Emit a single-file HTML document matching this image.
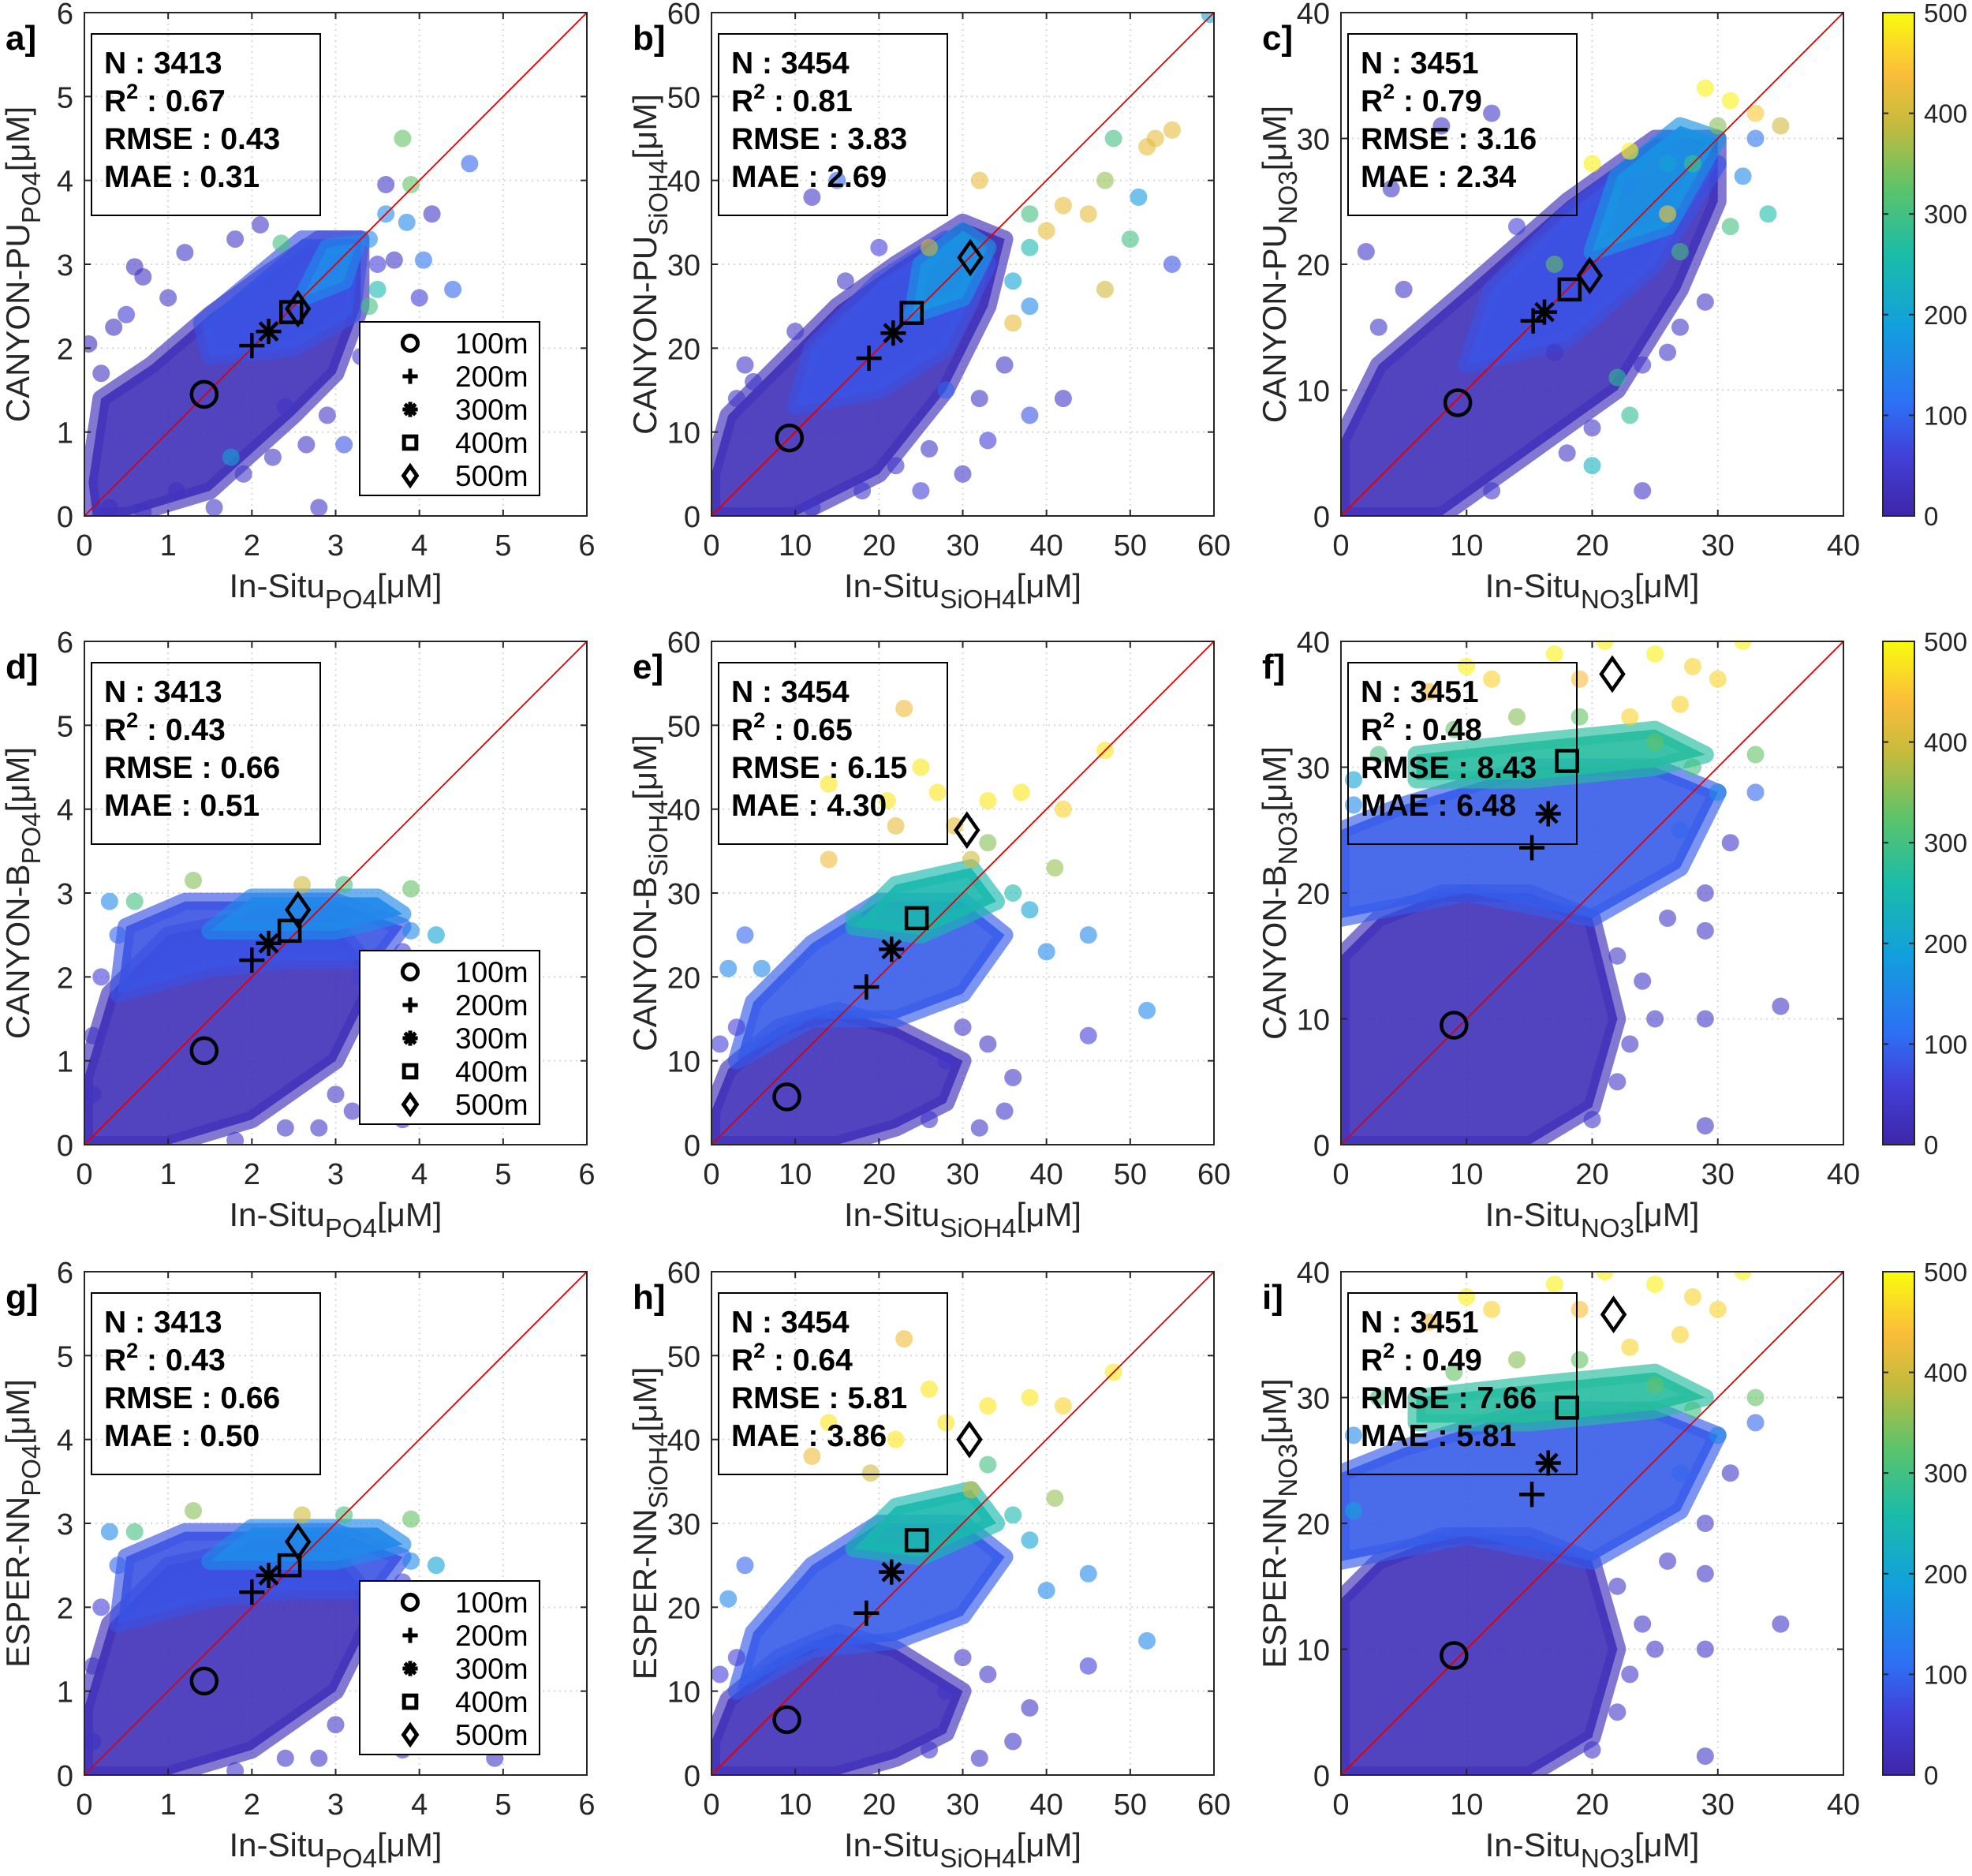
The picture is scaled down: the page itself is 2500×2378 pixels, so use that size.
<!DOCTYPE html>
<html><head><meta charset="utf-8"><style>
body{margin:0;background:#fff}
svg{display:block;font-family:"Liberation Sans",sans-serif}
</style></head><body>
<svg id="fig" width="2500" height="2378" viewBox="0 0 2500 2378" xmlns="http://www.w3.org/2000/svg">
<defs>
<linearGradient id="parula" x1="0" y1="1" x2="0" y2="0">
<stop offset="0" stop-color="#3e26a8"/><stop offset="0.12" stop-color="#4240d8"/><stop offset="0.22" stop-color="#2e6ff5"/><stop offset="0.38" stop-color="#12a0dc"/><stop offset="0.52" stop-color="#1bbca8"/><stop offset="0.65" stop-color="#5cc36a"/><stop offset="0.78" stop-color="#c6bb3c"/><stop offset="0.88" stop-color="#fbbd3a"/><stop offset="1" stop-color="#f9fb0e"/>
</linearGradient>
</defs>
</svg>
<script>
// ---- data ----
const categoriesDepth = ['100m','200m','300m','400m','500m'];
const panelLetters = ['a]','b]','c]','d]','e]','f]','g]','h]','i]'];
const modelNames = ['CANYON-PU','CANYON-PU','CANYON-PU','CANYON-B','CANYON-B','CANYON-B','ESPER-NN','ESPER-NN','ESPER-NN'];
const nutrients = ['PO4','SiOH4','NO3'];
const axisMax = [6,60,40];
const xTicks = [[0,1,2,3,4,5,6],[0,10,20,30,40,50,60],[0,10,20,30,40]];
const statN = ['3413','3454','3451','3413','3454','3451','3413','3454','3451'];
const statR2 = ['0.67','0.81','0.79','0.43','0.65','0.48','0.43','0.64','0.49'];
const statRMSE = ['0.43','3.83','3.16','0.66','6.15','8.43','0.66','5.81','7.66'];
const statMAE = ['0.31','2.69','2.34','0.51','4.30','6.48','0.50','3.86','5.81'];
const colorbarTicks = [0,100,200,300,400,500];

// depth means [x,y] per panel
const meansA=[[1.43,1.45],[2.0,2.03],[2.2,2.2],[2.47,2.43],[2.55,2.47]];
const meansB=[[9.3,9.3],[18.8,18.8],[21.7,21.8],[23.9,24.2],[30.9,30.8]];
const meansC=[[9.3,9.0],[15.3,15.5],[16.2,16.2],[18.2,18.0],[19.8,19.1]];
const meansD=[[1.43,1.12],[2.0,2.2],[2.2,2.4],[2.45,2.55],[2.55,2.8]];
const meansE=[[9.0,5.7],[18.5,18.8],[21.5,23.3],[24.5,27.0],[30.5,37.5]];
const meansF=[[9.0,9.5],[15.2,23.6],[16.5,26.3],[18.0,30.5],[21.6,37.4]];
const meansG=[[1.43,1.12],[2.0,2.18],[2.2,2.38],[2.45,2.5],[2.55,2.78]];
const meansH=[[9.0,6.6],[18.5,19.3],[21.5,24.2],[24.5,28.0],[30.8,40.0]];
const meansI=[[9.0,9.5],[15.2,22.3],[16.5,24.8],[18.0,29.2],[21.7,36.6]];
const means=[meansA,meansB,meansC,meansD,meansE,meansF,meansG,meansH,meansI];

// dense-cloud regions [depthValue, polygon]
const cloudsA=[[20,[[0.1,0],[0.5,0],[1.5,0.3],[2.5,1.2],[3,1.7],[3.3,2.5],[3.3,3.3],[2.8,3.3],[2.2,2.9],[1.5,2.4],[0.8,1.8],[0.2,1.4],[0.05,0.4]]],[80,[[1.5,1.9],[2.5,2.0],[3.2,2.4],[3.3,3.3],[2.6,3.3],[2.0,2.8],[1.4,2.3]]],[150,[[2.6,2.6],[3.1,2.8],[3.25,3.25],[2.9,3.2]]]];
const cloudsB=[[20,[[0,0],[10,0],[20,5],[28,15],[33,25],[35,33],[30,35],[22,30],[15,25],[8,18],[2,12],[0,5]]],[80,[[10,13],[20,15],[28,20],[33,30],[28,33],[20,28],[12,20]]],[170,[[24,24],[30,26],[33,32],[30,34],[25,30]]]];
const cloudsC=[[20,[[0,0],[8,0],[15,5],[22,10],[27,18],[30,25],[30,30],[25,30],[18,25],[10,18],[3,12],[0,6]]],[80,[[10,12],[18,14],[25,20],[30,28],[26,30],[18,24],[12,18]]],[170,[[20,21],[26,23],[30,30],[27,31],[22,27]]]];
const cloudsD=[[20,[[0,0],[1,0],[2,0.3],[3,1],[3.5,2],[3,2.6],[2,2.7],[1,2.5],[0.3,1.8],[0,0.8]]],[80,[[0.4,1.8],[1.5,2.1],[2.5,2.2],[3.5,2.2],[3.8,2.6],[3,2.9],[1.2,2.9],[0.5,2.6]]],[150,[[1.5,2.55],[3,2.55],[3.8,2.75],[3.5,2.95],[2,2.95]]]];
const cloudsE=[[20,[[0,0],[15,0],[22,2],[28,5],[30,10],[22,14],[15,16],[8,14],[2,9],[0,4]]],[90,[[3,10],[12,15],[22,15],[30,18],[35,25],[30,29],[20,29],[12,24],[5,17]]],[250,[[17,26],[25,25],[34,29],[31,33],[22,31]]]];
const cloudsF=[[20,[[0,0],[15,0],[20,3],[22,10],[20,18],[15,20],[8,20],[3,18],[0,15]]],[90,[[0,18],[10,20],[20,18],[27,22],[30,28],[25,30],[15,30],[5,27],[0,25]]],[270,[[6,29],[15,29],[25,30],[29,31],[25,33],[15,32],[6,31]]]];
const cloudsG=[[20,[[0,0],[1,0],[2,0.3],[3,1],[3.5,2],[3,2.6],[2,2.7],[1,2.5],[0.3,1.8],[0,0.8]]],[80,[[0.4,1.8],[1.5,2.1],[2.5,2.2],[3.5,2.2],[3.8,2.6],[3,2.9],[1.2,2.9],[0.5,2.6]]],[150,[[1.5,2.55],[3,2.55],[3.8,2.75],[3.5,2.95],[2,2.95]]]];
const cloudsH=[[20,[[0,0],[15,0],[22,2],[28,5],[30,10],[22,15],[15,17],[8,14],[2,9],[0,4]]],[90,[[3,10],[12,15],[22,16],[30,19],[35,26],[30,30],[20,30],[12,25],[5,17]]],[250,[[17,27],[25,26],[34,30],[31,34],[22,32]]]];
const cloudsI=[[20,[[0,0],[15,0],[20,3],[22,10],[20,17],[15,19],[8,19],[3,17],[0,14]]],[90,[[0,17],[10,19],[20,17],[27,21],[30,27],[25,29],[15,29],[5,26],[0,24]]],[270,[[6,28],[15,28],[25,29],[29,30],[25,32],[15,31],[6,30]]]];
const clouds=[cloudsA,cloudsB,cloudsC,cloudsD,cloudsE,cloudsF,cloudsG,cloudsH,cloudsI];

// individual points [x,y,depth]
const ptsA=[[0.05,2.05,20],[0.6,2.97,30],[0.7,2.85,30],[1.2,3.14,40],[1.8,3.3,40],[2.1,3.47,40],[2.35,3.25,300],[3.8,4.5,330],[3.9,3.95,330],[4.6,4.2,100],[3.6,3.95,40],[4.15,3.6,40],[3.85,3.5,150],[4.05,3.05,120],[4.4,2.7,100],[4.0,2.6,60],[3.6,1.55,40],[2.65,0.85,40],[2.8,0.1,40],[1.55,0.1,40],[3.1,0.85,80],[2.25,0.7,40],[3.6,3.6,150],[3.4,2.5,300],[1.75,0.7,200],[0.35,2.25,30],[0.2,1.7,30],[1.0,2.6,40],[0.5,2.4,50],[3.5,3.0,60],[3.7,3.05,40],[3.5,2.2,40],[3.3,1.9,40],[2.9,1.2,40],[2.4,1.3,40],[1.9,0.5,40],[1.1,0.3,30],[0.7,0.05,30],[0.3,0.1,30],[3.5,2.7,250],[3.4,3.3,150]];
const ptsB=[[59.5,59.8,200],[55,46,420],[53,45,420],[52,44,420],[51,38,180],[48,45,300],[47,40,360],[45,36,420],[42,37,420],[40,34,420],[38,36,300],[50,33,300],[55,30,80],[47,27,400],[32,40,420],[26,32,400],[36,23,420],[28,15,100],[33,9,60],[38,12,80],[42,14,40],[30,5,40],[25,3,60],[15,40,100],[12,38,40],[4,18,40],[36,28,200],[38,25,150],[35,18,40],[32,14,40],[26,8,40],[22,6,40],[18,3,40],[12,1,40],[5,16,40],[3,14,40],[10,22,40],[16,28,40],[20,32,60],[38,32,250]];
const ptsC=[[29,34,490],[31,33,490],[33,32,450],[35,31,400],[34,24,260],[31,23,300],[27,21,300],[26,24,450],[23,29,490],[20,28,490],[17,20,330],[22,11,280],[23,8,280],[20,4,230],[26,13,40],[29,17,40],[12,32,40],[8,31,40],[4,26,40],[2,21,40],[24,2,40],[17,13,40],[32,27,150],[33,30,120],[28,28,300],[30,31,350],[26,28,200],[23,26,150],[5,18,40],[3,15,40],[14,23,60],[20,7,40],[18,5,40],[24,12,40],[27,15,40],[12,2,40]];
const ptsD=[[0.1,0.6,30],[3.9,3.05,330],[3.1,3.1,300],[2.6,3.1,400],[4.0,2.1,150],[3.9,2.55,150],[4.2,2.5,200],[3.5,1.5,60],[3.7,0.9,40],[3.8,0.3,40],[3.2,0.4,40],[2.8,0.2,40],[1.3,3.15,350],[0.6,2.9,300],[0.4,2.5,100],[3.6,1.9,40],[3.4,1.2,40],[3.0,0.6,40],[2.4,0.2,40],[1.8,0.05,40],[0.2,2.0,60],[0.1,1.3,30],[0.3,2.9,150],[3.8,2.3,60],[3.3,2.0,60]];
const ptsE=[[52,16,150],[45,25,150],[47,47,480],[41,33,360],[42,40,460],[37,42,480],[33,41,480],[31,34,400],[25,45,480],[27,42,480],[21,41,480],[14,43,480],[23,52,430],[14,34,430],[40,23,150],[45,13,60],[36,8,40],[35,4,40],[32,2,40],[4,25,100],[6,21,150],[2,21,150],[17,27,250],[30,14,40],[33,12,40],[28,10,40],[26,3,40],[38,28,200],[36,30,250],[33,36,350],[29,38,420],[1,12,60],[3,14,60],[22,38,420]];
const ptsF=[[21,40,490],[25,39,490],[28,38,460],[30,37,460],[32,40,490],[23,34,460],[27,35,460],[33,31,330],[25,32,330],[12,37,460],[7,36,440],[10,38,490],[30,28,150],[33,28,100],[31,24,40],[29,20,40],[29,17,40],[29,10,40],[35,11,40],[25,10,40],[29,1.5,40],[20,2,40],[22,15,40],[1,27,150],[1,29,200],[17,39,490],[19,37,440],[27,25,100],[26,18,40],[24,13,40],[23,8,40],[22,5,40],[28,30,300],[14,34,350],[19,34,330],[9,33,330],[3,31,300]];
const ptsG=[[0.1,0.4,30],[3.9,3.05,330],[3.1,3.1,300],[2.6,3.1,400],[4.0,2.1,150],[3.9,2.55,150],[4.2,2.5,200],[3.5,1.5,60],[3.7,0.9,40],[3.8,0.3,40],[4.9,0.2,40],[2.8,0.2,40],[1.3,3.15,350],[0.6,2.9,300],[0.4,2.5,100],[3.6,1.9,40],[3.4,1.2,40],[3.0,0.6,40],[2.4,0.2,40],[1.8,0.05,40],[0.2,2.0,60],[0.1,1.3,30],[0.3,2.9,150],[3.8,2.3,60],[3.3,2.0,60]];
const ptsH=[[52,16,150],[45,24,150],[48,48,480],[41,33,360],[42,44,460],[38,45,480],[33,44,480],[31,34,400],[26,46,480],[28,42,480],[22,40,480],[14,42,480],[23,52,430],[12,38,430],[40,22,150],[45,13,60],[38,8,40],[36,4,40],[32,2,40],[4,25,100],[2,21,150],[19,36,400],[33,37,300],[30,14,40],[33,12,40],[28,10,40],[26,3,40],[38,28,200],[36,31,250],[1,12,60],[3,14,60]];
const ptsI=[[21,40,490],[25,39,490],[28,38,460],[30,37,460],[32,40,490],[23,34,460],[27,35,460],[33,30,330],[25,31,330],[12,37,460],[7,36,440],[10,38,490],[30,27,150],[33,28,100],[31,24,40],[29,20,40],[29,16,40],[29,10,40],[35,12,40],[25,10,40],[29,1.5,40],[20,2,40],[22,15,40],[1,27,150],[1,21,200],[17,39,490],[19,37,440],[27,24,100],[26,17,40],[24,12,40],[23,8,40],[22,5,40],[28,29,300],[14,33,350],[19,33,330],[9,32,330],[3,30,300]];
const pts=[ptsA,ptsB,ptsC,ptsD,ptsE,ptsF,ptsG,ptsH,ptsI];

// ---- drawing ----
const NS='http://www.w3.org/2000/svg';
const svg=document.getElementById('fig');
function mk(tag,attrs,parent){const e=document.createElementNS(NS,tag);for(const k in attrs)e.setAttribute(k,attrs[k]);(parent||svg).appendChild(e);return e;}
const stops=[[0,[62,38,168]],[0.12,[66,64,216]],[0.22,[46,111,245]],[0.38,[18,160,220]],[0.52,[27,188,168]],[0.65,[92,195,106]],[0.78,[198,187,60]],[0.88,[251,189,58]],[1,[249,251,14]]];
function cmap(v){const t=Math.max(0,Math.min(1,v/500));for(let i=1;i<stops.length;i++){if(t<=stops[i][0]){const a=stops[i-1],b=stops[i];const f=(t-a[0])/(b[0]-a[0]);return 'rgb('+a[1].map((c,j)=>Math.round(c+(b[1][j]-c)*f)).join(',')+')';}}return 'rgb(249,251,14)';}

const colX=[107,902,1700], rowY=[16,813,1612], W=637, H=638;

for(let p=0;p<9;p++){
  const col=p%3,row=Math.floor(p/3);
  const L=colX[col],T=rowY[row],mx=axisMax[col];
  const sx=v=>L+v/mx*W, sy=v=>T+H-v/mx*H;
  const g=mk('g',{});
  
  
  const clipId='clip'+p;
  const cp=mk('clipPath',{id:clipId},g);mk('rect',{x:L,y:T,width:W,height:H},cp);
  mk('rect',{x:L,y:T,width:W,height:H,fill:'#fff'},g);
  xTicks[col].forEach(t=>{
    if(t>0&&t<mx){mk('line',{x1:sx(t),x2:sx(t),y1:T,y2:T+H,stroke:'#d8d8d8','stroke-width':2,'stroke-dasharray':'2 5'},g);
    mk('line',{x1:L,x2:L+W,y1:sy(t),y2:sy(t),stroke:'#d8d8d8','stroke-width':2,'stroke-dasharray':'2 5'},g);}
  });
  const dg=mk('g',{'clip-path':'url(#'+clipId+')'},g);
  clouds[p].forEach(c=>{
    const poly=mk('polygon',{points:c[1].map(q=>sx(q[0])+','+sy(q[1])).join(' '),fill:cmap(c[0]),stroke:cmap(c[0]),'stroke-width':22,'stroke-linejoin':'round','fill-opacity':0.9,'stroke-opacity':0.65},dg);
    
    
  });
  pts[p].forEach(q=>{
    const c=mk('circle',{cx:sx(q[0]),cy:sy(q[1]),r:11,fill:cmap(q[2]),'fill-opacity':0.6},dg);
    
    
  });
  const one=mk('line',{x1:sx(0),y1:sy(0),x2:sx(mx),y2:sy(mx),stroke:'#e00000','stroke-width':1.8},g);
  
  
  mk('rect',{x:L,y:T,width:W,height:H,fill:'none',stroke:'#262626','stroke-width':2},g);
  xTicks[col].forEach(t=>{
    mk('line',{x1:sx(t),x2:sx(t),y1:T+H,y2:T+H-8,stroke:'#262626','stroke-width':2},g);
    mk('line',{x1:sx(t),x2:sx(t),y1:T,y2:T+8,stroke:'#262626','stroke-width':2},g);
    mk('line',{x1:L,x2:L+8,y1:sy(t),y2:sy(t),stroke:'#262626','stroke-width':2},g);
    mk('line',{x1:L+W,x2:L+W-8,y1:sy(t),y2:sy(t),stroke:'#262626','stroke-width':2},g);
    const xl=mk('text',{x:sx(t),y:T+H+50,'font-size':38,'text-anchor':'middle',fill:'#262626'},g);xl.textContent=t;
    
    
    const yl=mk('text',{x:L-14,y:sy(t)+14,'font-size':38,'text-anchor':'end',fill:'#262626'},g);yl.textContent=t;
    
    
  });
  const xt=mk('text',{x:L+W/2,y:T+H+103,'font-size':42,'text-anchor':'middle',fill:'#262626'},g);
  xt.innerHTML='In-Situ<tspan font-size="33" dy="14">'+nutrients[col]+'</tspan><tspan dy="-14">[μM]</tspan>';
  
  
  const yx=L-70,yy=T+H/2;
  const yt=mk('text',{x:yx,y:yy,'font-size':42,'text-anchor':'middle',fill:'#262626',transform:'rotate(-90 '+yx+' '+yy+')'},g);
  yt.innerHTML=modelNames[p]+'<tspan font-size="33" dy="14">'+nutrients[col]+'</tspan><tspan dy="-14">[μM]</tspan>';
  
  
  const pl=mk('text',{x:L-100,y:T+47,'font-size':44,'font-weight':'bold',fill:'#000'},g);pl.textContent=panelLetters[p];
  
  
  const bx=L+9,by=T+27;
  const sb=mk('g',{},g);
  
  
  mk('rect',{x:bx,y:by,width:290,height:230,fill:'none',stroke:'#000','stroke-width':2},sb);
  const lines=['N : '+statN[p],'R2','RMSE : '+statRMSE[p],'MAE : '+statMAE[p]];
  lines.forEach((s,i)=>{
    const t=mk('text',{x:bx+16,y:by+50+i*48,'font-size':39,'font-weight':'bold',fill:'#000'},sb);
    if(i===1)t.innerHTML='R<tspan font-size="27" dy="-16">2</tspan><tspan dy="16"> : '+statR2[p]+'</tspan>';else t.textContent=s;
  });
  const m=means[p];
  const mg=mk('g',{fill:'none',stroke:'#000','stroke-width':4.5},g);
  
  
  drawMarker(mg,0,sx(m[0][0]),sy(m[0][1]),1);
  drawMarker(mg,1,sx(m[1][0]),sy(m[1][1]),1);
  drawMarker(mg,2,sx(m[2][0]),sy(m[2][1]),1);
  drawMarker(mg,3,sx(m[3][0]),sy(m[3][1]),1);
  drawMarker(mg,4,sx(m[4][0]),sy(m[4][1]),1);
  if(col===0){
    const lg=mk('g',{},g);
    
    
    const lx=L+349,ly=T+392;
    mk('rect',{x:lx,y:ly,width:228,height:220,fill:'#fff',stroke:'#000','stroke-width':2},lg);
    categoriesDepth.forEach((d,i)=>{
      const cy=ly+27+i*42;
      const mgl=mk('g',{fill:'none',stroke:'#000','stroke-width':5},lg);
      drawMarker(mgl,i,lx+64,cy,0.6);
      const t=mk('text',{x:lx+121,y:cy+13,'font-size':37,fill:'#000'},lg);t.textContent=d;
      
      
    });
  }
}
function drawMarker(g,k,x,y,s){
  if(k===0)mk('circle',{cx:x,cy:y,r:16*s},g);
  else if(k===1){mk('line',{x1:x-16*s,x2:x+16*s,y1:y,y2:y},g);mk('line',{x1:x,x2:x,y1:y-16*s,y2:y+16*s},g);}
  else if(k===2){for(let a=0;a<4;a++){const an=a*Math.PI/4;mk('line',{x1:x-16*s*Math.cos(an),x2:x+16*s*Math.cos(an),y1:y-16*s*Math.sin(an),y2:y+16*s*Math.sin(an)},g);}}
  else if(k===3)mk('rect',{x:x-13*s,y:y-13*s,width:26*s,height:26*s},g);
  else mk('polygon',{points:[x,y-20*s,x+14*s,y,x,y+20*s,x-14*s,y].join(' ')},g);
}
rowY.forEach((T,r)=>{
  const cg=mk('g',{});
  
  
  const x=2387,w=40;
  mk('rect',{x:x,y:T,width:w,height:H,fill:'url(#parula)',stroke:'#262626','stroke-width':2},cg);
  colorbarTicks.forEach(v=>{
    const y=T+H-v/500*H;
    mk('line',{x1:x,x2:x+7,y1:y,y2:y,stroke:'#262626','stroke-width':2},cg);
    mk('line',{x1:x+w,x2:x+w-7,y1:y,y2:y,stroke:'#262626','stroke-width':2},cg);
    const t=mk('text',{x:x+w+12,y:y+12,'font-size':33,fill:'#262626'},cg);t.textContent=v;
  });
});
</script>
</body></html>
